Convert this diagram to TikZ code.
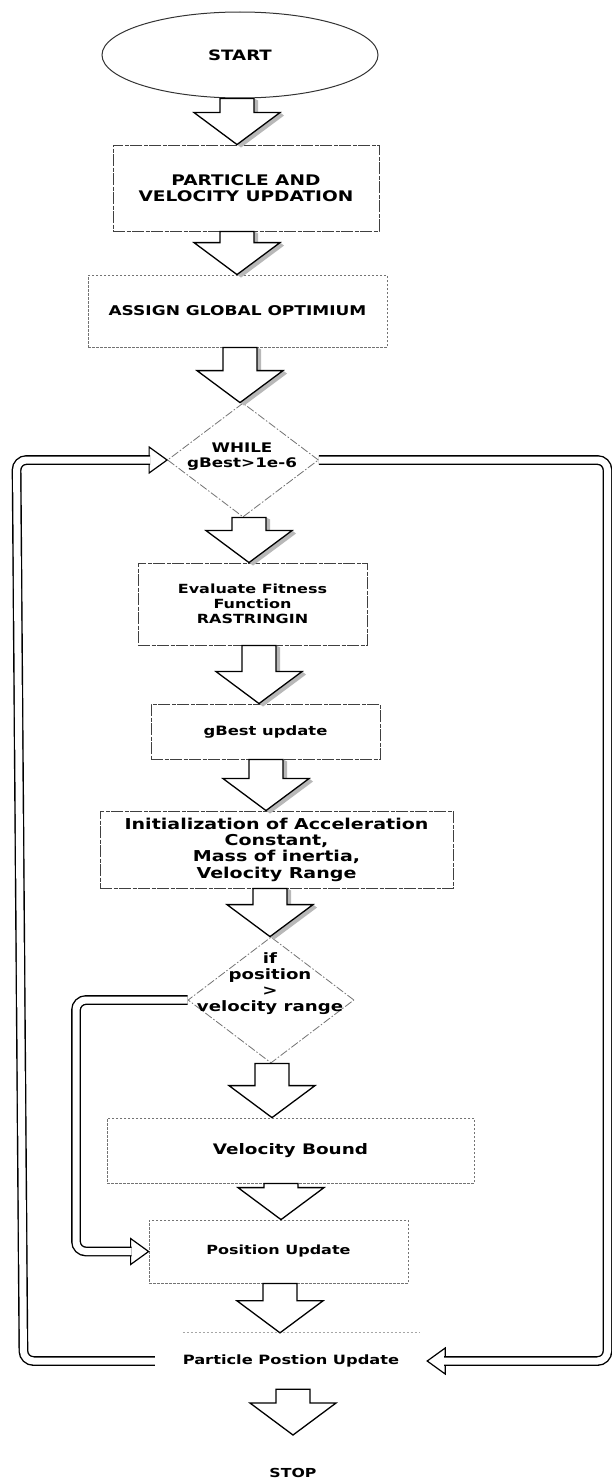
\documentclass[tikz,border=0pt]{standalone}
\usepackage{fontspec}
\newfontfamily\dv{DejaVu Sans}[FakeStretch=1.27]
\usetikzlibrary{shapes.geometric,calc}
\newcommand{\fs}[2]{\dv\bfseries\fontsize{#1}{#2}\selectfont}
\tikzset{
 box/.style={rectangle, draw=black!75, line width=0.9pt, dash pattern=on 12pt off 1.5pt on 4pt off 1.5pt, inner sep=0pt, align=center},
 dotbox/.style={rectangle, draw=black!55, line width=0.8pt, dash pattern=on 2.5pt off 1.5pt, inner sep=0pt, align=center},
 dia/.style={diamond, draw=black!55, line width=0.8pt, dash pattern=on 8pt off 2pt on 1.5pt off 2pt, inner sep=0pt},
 oval/.style={ellipse, draw=black!80, line width=1pt, inner sep=0pt},
 txt/.style={inner sep=0pt, align=center},
 blockarrow/.style={draw=black, fill=white, line width=1.3pt, line join=miter},
 shade/.style={fill=black!28},
 dbl/.style={draw=black, line width=1.4pt, double=white, double distance=7pt, rounded corners=10pt},
 hhead/.style={draw=black, fill=white, line width=1.2pt, line join=miter},
 faint/.style={draw=black!35, line width=0.7pt, dash pattern=on 2pt off 2pt}
}
\newcommand{\barrow}[3]{%
 \draw[blockarrow] let \p1=(#1), \p2=(#2) in
 ({#3pt-17pt},\y1) -- ({#3pt-17pt},{\y2+32pt}) -- ({#3pt-43pt},{\y2+32pt}) -- (#3pt,\y2) -- ({#3pt+43pt},{\y2+32pt}) -- ({#3pt+17pt},{\y2+32pt}) -- ({#3pt+17pt},\y1) -- cycle;}
\newcommand{\barrowS}[3]{%
 \fill[shade] let \p1=(#1), \p2=(#2) in
 (#3pt,\y2) -- ({#3pt+43pt},{\y2+32pt}) -- ({#3pt+47pt},{\y2+29pt}) -- ({#3pt+4pt},{\y2-3pt}) -- cycle
 ({#3pt+17pt},{\y1}) -- ({#3pt+17pt},{\y2+32pt}) -- ({#3pt+21pt},{\y2+32pt}) -- ({#3pt+21pt},{\y1-2pt}) -- cycle;
 \barrow{#1}{#2}{#3}}
\begin{document}
\begin{tikzpicture}[x=1pt,y=-1pt]
\fill[white] (0,0) rectangle (612,1480);
\useasboundingbox (0,0) rectangle (612,1480);

\node[oval, minimum width=276pt, minimum height=86pt, font=\fs{14.3}{16}] (start) at (240,55) {START};
\node[box, minimum width=266pt, minimum height=86pt, font=\fs{14.6}{16}] (pv) at (246,188) {PARTICLE AND\\VELOCITY UPDATION};
\node[dotbox, minimum width=299pt, minimum height=72pt, font=\fs{13.4}{15}] (ag) at (237.5,311) {ASSIGN GLOBAL OPTIMIUM};
\node[dia, minimum width=151pt, minimum height=114pt] (wh) at (243,460) {};
\node[txt, font=\fs{13.2}{15}] (whtxt) at (242,457) {WHILE\\gBest>1e-6};
\node[box, minimum width=229pt, minimum height=82pt, font=\fs{12.6}{15}] (ev) at (252.5,604) {Evaluate Fitness\\Function\\RASTRINGIN};
\node[box, minimum width=229pt, minimum height=55pt, font=\fs{12.9}{15}] (gb) at (265.5,731.5) {gBest update};
\node[box, minimum width=353pt, minimum height=77pt, font=\fs{15}{16.3}] (in) at (276.5,849.5) {Initialization of Acceleration\\Constant,\\Mass of inertia,\\Velocity Range};
\node[dia, minimum width=166pt, minimum height=126pt] (if) at (271,1000) {};
\node[txt, font=\fs{14.3}{16}] (iftxt) at (270,984) {if\\position\\>\\velocity range};
\node[dotbox, minimum width=367pt, minimum height=65pt, font=\fs{14.5}{16}] (vb) at (290.5,1150.5) {Velocity Bound};
\node[dotbox, minimum width=259pt, minimum height=63pt, font=\fs{12.6}{15}] (pu) at (278.5,1251.5) {Position Update};
\node[txt, minimum width=272pt, minimum height=56pt, font=\fs{12.8}{15}] (ppu) at (291,1361) {\raisebox{-6pt}{Particle Postion Update}};
\node[txt, font=\fs{12.4}{15}] (stop) at (293,1473) {STOP};
\coordinate (stoptip) at (293,1435);

\draw[faint] ($(ppu.north west)+(28,0)$) -- ($(ppu.north east)+(-7,0)$);

\barrowS{start.south}{pv.north}{237}
\barrowS{pv.south}{ag.north}{237}
\barrowS{ag.south}{wh.north}{240}
\barrowS{wh.south}{ev.north}{249}
\barrowS{ev.south}{gb.north}{259}
\barrowS{gb.south}{in.north}{266}
\barrowS{in.south}{if.north}{270}
\barrow{if.south}{vb.north}{272}
\barrow{vb.south}{pu.north}{281}
\barrow{pu.south}{ppu.north}{280}
\barrow{ppu.south}{stoptip}{293}

\draw[hhead] (wh.west) -- ++(-18,-13) -- ++(0,26) -- cycle;
\draw[dbl] (ppu.west) -- (23.5,1361) -- (16.5,460) -- ($(wh.west)+(-17,0)$);
\draw[hhead] (ppu.east) -- ++(18,-13) -- ++(0,26) -- cycle;
\draw[dbl] (wh.east) -- (607.5,460) -- (607.5,1361) -- ($(ppu.east)+(17,0)$);
\draw[hhead] (pu.west) -- ++(-18,-13) -- ++(0,26) -- cycle;
\draw[dbl] (if.west) -- (76,1000) -- (76,1251.5) -- ($(pu.west)+(-17,0)$);
\end{tikzpicture}
\end{document}
